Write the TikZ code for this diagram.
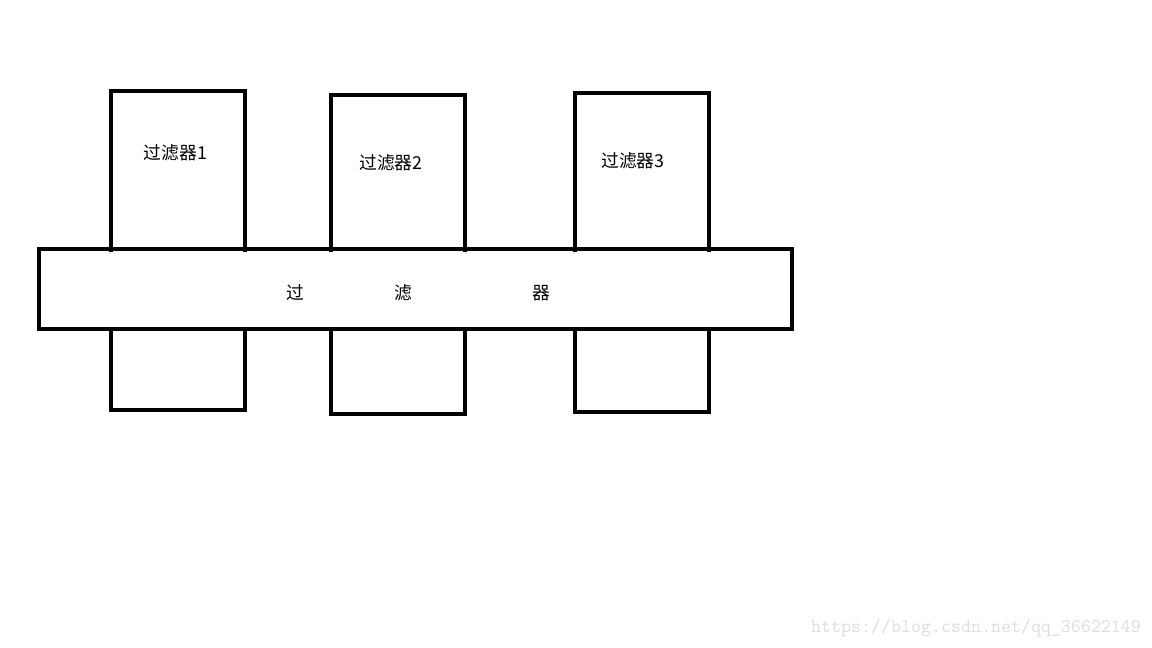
\documentclass[tikz,border=0pt]{standalone}
\usepackage{fontspec}
\newfontfamily\cjk{Noto Sans CJK SC}
\begin{document}
\begin{tikzpicture}[x=1pt,y=-1pt,
  boxline/.style={line width=4pt, line cap=butt, line join=miter},
  lbl/.style={font=\cjk\fontsize{17.8}{17.8}\selectfont, inner sep=0pt, anchor=center}]
\useasboundingbox (0,0) rectangle (1152,648);
% upper boxes (open at the bottom, legs reaching slightly into the bar line)
\draw[boxline] (111,252) -- (111,91) -- (245,91) -- (245,252);
\draw[boxline] (331,252) -- (331,95) -- (465,95) -- (465,252);
\draw[boxline] (575,252) -- (575,93) -- (709,93) -- (709,252);
% lower boxes
\draw[boxline] (111,329) -- (111,410) -- (245,410) -- (245,329);
\draw[boxline] (331,329) -- (331,414) -- (465,414) -- (465,329);
\draw[boxline] (575,329) -- (575,412) -- (709,412) -- (709,329);
% main bar
\draw[boxline] (39,249) rectangle (792,329);
\node[lbl] (f1) at (175.5,153) {过滤器1};
\node[lbl] (f2) at (391,163) {过滤器2};
\node[lbl] (f3) at (633,161) {过滤器3};
\node[lbl] (c1) at (295,293) {过};
\node[lbl] (c2) at (403,293) {滤};
\node[lbl] (c3) at (541,293) {器};
\node[inner sep=0pt, anchor=west, text={rgb,255:red,222;green,222;blue,216},
  font=\ttfamily\fontsize{19.4}{19.4}\selectfont] (wm) at (811,628) {https://blog.csdn.net/qq\_36622149};
\end{tikzpicture}
\end{document}
